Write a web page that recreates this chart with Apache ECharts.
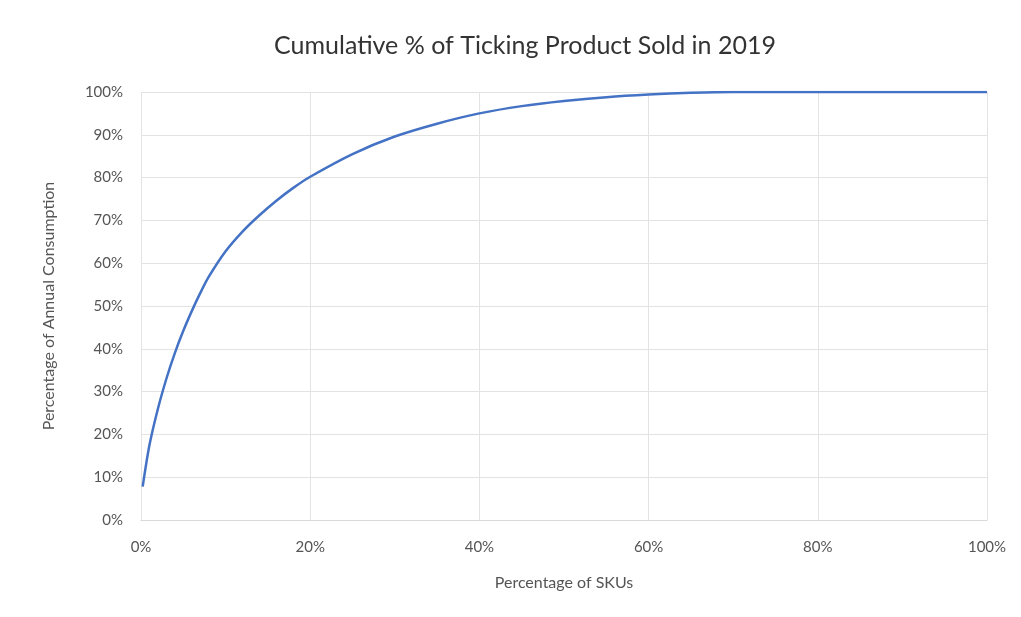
<!DOCTYPE html>
<html>
<head>
<meta charset="utf-8">
<script src="https://cdn.jsdelivr.net/npm/echarts@6/dist/echarts.min.js"></script>
<style>
  html, body { margin: 0; padding: 0; background: #fff; }
  #chart { width: 1021px; height: 617px; }
</style>
</head>
<body>
<div id="chart"></div>
<script>
// percentage of SKUs (x) and cumulative share of consumption (y)
const skuPct = [0.2, 1, 2, 3, 4, 5, 6, 7, 8, 10, 12, 14, 16, 18, 20, 25, 30, 35, 40, 45, 50, 55, 60, 65, 70, 80, 90, 100];
const cumPct = [7.8, 17.5, 26, 33, 39, 44.2, 48.8, 53, 56.8, 62.8, 67.4, 71.2, 74.6, 77.6, 80.2, 85.5, 89.6, 92.6, 95, 96.7, 97.9, 98.8, 99.4, 99.8, 100, 100, 100, 100];

const chart = echarts.init(document.getElementById("chart"));

const font = "Lato, 'Open Sans', sans-serif";

const option = {
  animation: false,
  title: {
    text: "Cumulative % of Ticking Product Sold in 2019",
    left: 520,
    top: 28,
    textAlign: "center",
    textStyle: {
      fontFamily: font,
      fontSize: 25,
      fontWeight: "normal",
      color: "#333333",
    },
  },
  grid: {
    left: 141,
    right: 34,
    top: 92,
    bottom: 97,
  },
  xAxis: {
    type: "value",
    min: 0,
    max: 100,
    interval: 20,
    name: "Percentage of SKUs",
    nameLocation: "middle",
    nameGap: 55,
    nameTextStyle: { fontFamily: font, fontSize: 16, color: "#555555" },
    axisLine: { lineStyle: { color: "#d9d9d9" } },
    axisTick: { show: false },
    axisLabel: {
      formatter: "{value}%",
      margin: 20,
      fontFamily: font,
      fontSize: 15,
      color: "#555555",
    },
    splitLine: { show: true, lineStyle: { color: "#e3e3e3" } },
  },
  yAxis: {
    type: "value",
    min: 0,
    max: 100,
    interval: 10,
    name: "Percentage of Annual Consumption",
    nameLocation: "middle",
    nameGap: 84,
    nameTextStyle: { fontFamily: font, fontSize: 16, color: "#555555" },
    axisLine: { show: false },
    axisTick: { show: false },
    axisLabel: {
      formatter: "{value}%",
      margin: 18,
      fontFamily: font,
      fontSize: 15,
      color: "#555555",
    },
    splitLine: { lineStyle: { color: "#e3e3e3" } },
  },
  series: [
    {
      type: "line",
      data: skuPct.map((x, i) => [x, cumPct[i]]),
      smooth: 0.3,
      symbol: "none",
      lineStyle: { color: "#4472c4", width: 2.5 },
    },
  ],
};

chart.setOption(option);
</script>
</body>
</html>
